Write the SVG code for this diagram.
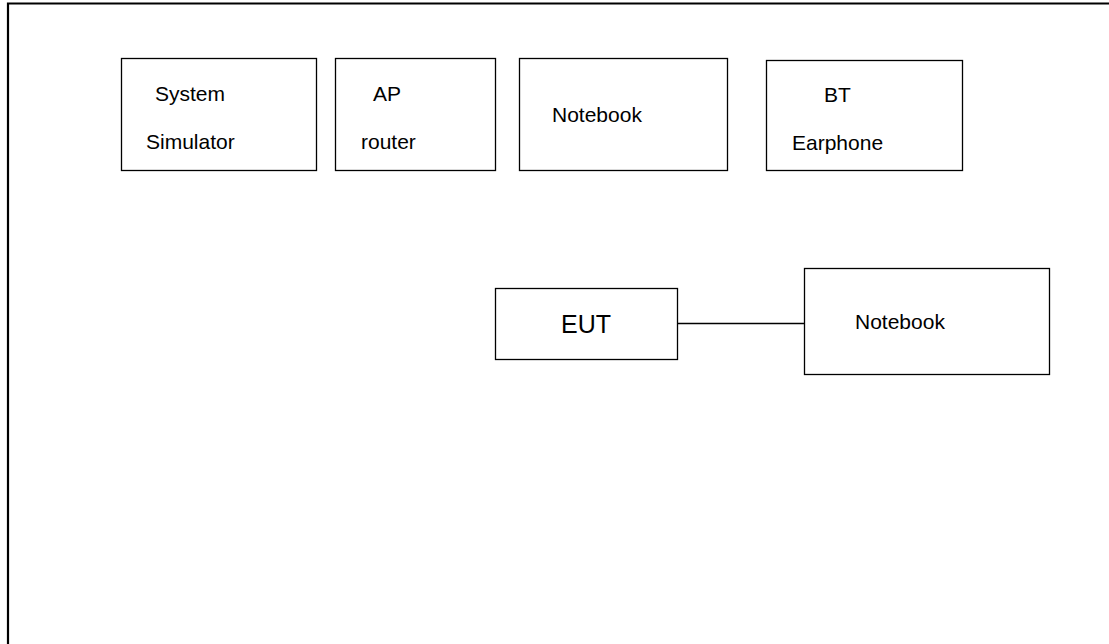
<svg xmlns="http://www.w3.org/2000/svg" width="1109" height="644" viewBox="0 0 1109 644">
<style>
.box{fill:#fff;stroke:#000;stroke-width:1.3}
.t{font-family:"Liberation Sans",Arial,sans-serif;font-size:21px;fill:#000}
.big{font-size:25px}
.c{stroke:#000;stroke-width:1.5;fill:none}
</style>
<rect width="1109" height="644" fill="#fff"/>
<path d="M8,644 V3.5 H1109" fill="none" stroke="#000" stroke-width="2.2"/>
<g id="system-simulator">
<rect class="box" x="121.5" y="58.5" width="195" height="112"/>
<text class="t" x="155" y="101">System</text>
<text class="t" x="146" y="149">Simulator</text>
</g>
<g id="ap-router">
<rect class="box" x="335.5" y="58.5" width="160" height="112"/>
<text class="t" x="373" y="101">AP</text>
<text class="t" x="361" y="149">router</text>
</g>
<g id="notebook-top">
<rect class="box" x="519.5" y="58.5" width="208" height="112"/>
<text class="t" x="552" y="122">Notebook</text>
</g>
<g id="bt-earphone">
<rect class="box" x="766.5" y="60.5" width="196" height="110"/>
<text class="t" x="824" y="102">BT</text>
<text class="t" x="792" y="150">Earphone</text>
</g>
<g id="eut">
<rect class="box" x="495.5" y="288.5" width="182" height="71"/>
<text class="t big" x="561" y="333">EUT</text>
</g>
<g id="notebook-bottom">
<rect class="box" x="804.5" y="268.5" width="245" height="106"/>
<text class="t" x="855" y="329">Notebook</text>
</g>
<g id="connectors">
<line class="c" x1="678" y1="323.5" x2="804" y2="323.5"/>
</g>
</svg>
